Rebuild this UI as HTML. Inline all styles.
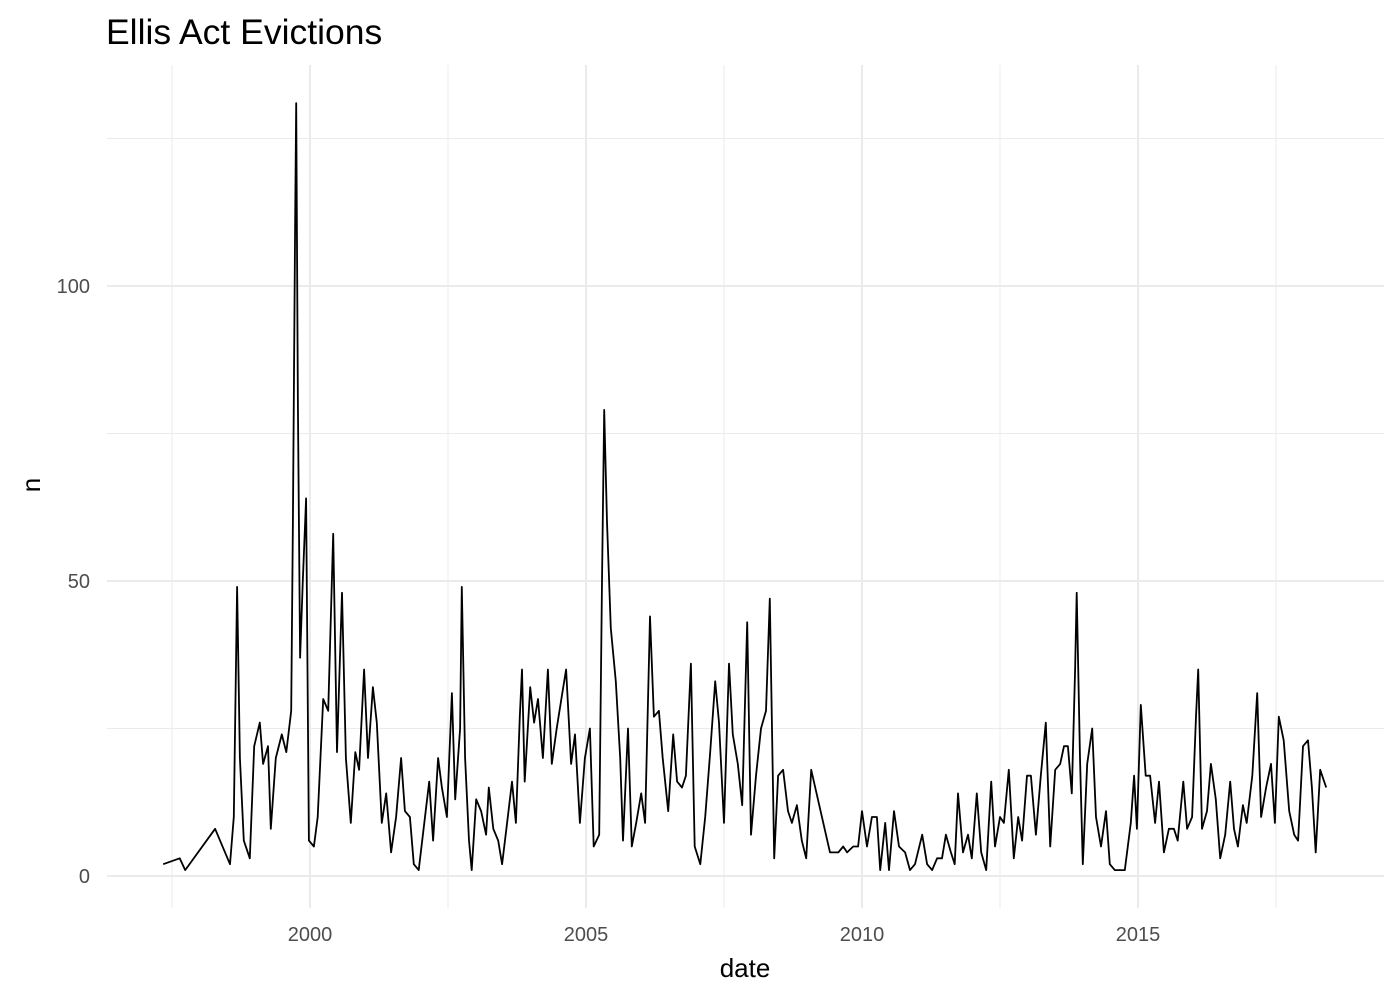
<!DOCTYPE html>
<html><head><meta charset="utf-8"><style>
body{margin:0;background:#fff;}
svg{display:block;font-family:"Liberation Sans",Arial,sans-serif;}
</style></head><body>
<svg id="chart" width="1400" height="1000">
<text x="106" y="44" font-size="35.5" fill="#000">Ellis Act Evictions</text>
<g id="grid"></g>
<g id="axes"></g>
<text x="745" y="977" font-size="26" text-anchor="middle" fill="#000">date</text>
<text transform="translate(40,485) rotate(-90)" font-size="26" text-anchor="middle" fill="#000">n</text>
<path id="line" fill="none" stroke="#000" stroke-width="1.8" stroke-linejoin="round"></path>
</svg>
<script>
const dates=[1997.34,1997.64,1997.74,1998.28,1998.55,1998.62,1998.68,1998.73,1998.80,1998.91,1998.99,1999.09,1999.15,1999.24,1999.29,1999.38,1999.49,1999.57,1999.66,1999.69,1999.73,1999.75,1999.78,1999.82,1999.87,1999.93,1999.98,2000.07,2000.14,2000.24,2000.33,2000.42,2000.49,2000.58,2000.65,2000.74,2000.82,2000.89,2000.98,2001.05,2001.14,2001.21,2001.30,2001.38,2001.47,2001.56,2001.65,2001.72,2001.81,2001.88,2001.97,2002.07,2002.16,2002.23,2002.32,2002.39,2002.48,2002.57,2002.63,2002.72,2002.75,2002.81,2002.88,2002.93,2003.01,2003.10,2003.19,2003.24,2003.32,2003.41,2003.48,2003.57,2003.66,2003.73,2003.80,2003.84,2003.89,2003.99,2004.06,2004.13,2004.22,2004.31,2004.38,2004.47,2004.57,2004.64,2004.73,2004.80,2004.89,2004.98,2005.07,2005.14,2005.24,2005.29,2005.33,2005.38,2005.45,2005.54,2005.62,2005.67,2005.76,2005.83,2005.91,2006.00,2006.07,2006.16,2006.23,2006.32,2006.39,2006.49,2006.58,2006.65,2006.74,2006.81,2006.90,2006.97,2007.07,2007.16,2007.25,2007.34,2007.41,2007.50,2007.59,2007.66,2007.75,2007.83,2007.92,2007.99,2008.08,2008.17,2008.26,2008.33,2008.41,2008.48,2008.57,2008.66,2008.73,2008.82,2008.91,2008.99,2009.08,2009.42,2009.57,2009.66,2009.73,2009.84,2009.93,2010.00,2010.09,2010.18,2010.27,2010.33,2010.42,2010.49,2010.58,2010.67,2010.78,2010.87,2010.96,2011.09,2011.18,2011.27,2011.36,2011.45,2011.52,2011.61,2011.68,2011.74,2011.83,2011.92,2011.99,2012.08,2012.16,2012.25,2012.34,2012.41,2012.50,2012.57,2012.66,2012.75,2012.83,2012.90,2012.99,2013.06,2013.15,2013.24,2013.33,2013.41,2013.50,2013.59,2013.66,2013.73,2013.80,2013.86,2013.89,2013.95,2014.00,2014.08,2014.17,2014.24,2014.33,2014.42,2014.49,2014.58,2014.67,2014.76,2014.87,2014.93,2014.98,2015.05,2015.14,2015.22,2015.31,2015.38,2015.47,2015.56,2015.65,2015.72,2015.82,2015.89,2015.98,2016.05,2016.09,2016.16,2016.25,2016.32,2016.41,2016.49,2016.58,2016.67,2016.74,2016.81,2016.90,2016.97,2017.07,2017.16,2017.23,2017.32,2017.41,2017.48,2017.55,2017.64,2017.74,2017.83,2017.90,2017.99,2018.08,2018.15,2018.22,2018.30,2018.41];
const values=[2,3,1,8,2,10,49,20,6,3,22,26,19,22,8,20,24,21,28,60,110,131,80,37,50,64,6,5,10,30,28,58,21,48,20,9,21,18,35,20,32,26,9,14,4,10,20,11,10,2,1,9,16,6,20,15,10,31,13,25,49,20,6,1,13,11,7,15,8,6,2,9,16,9,27,35,16,32,26,30,20,35,19,25,31,35,19,24,9,20,25,5,7,50,79,60,42,33,20,6,25,5,9,14,9,44,27,28,20,11,24,16,15,17,36,5,2,10,21,33,26,9,36,24,19,12,43,7,17,25,28,47,3,17,18,11,9,12,6,3,18,4,4,5,4,5,5,11,5,10,10,1,9,1,11,5,4,1,2,7,2,1,3,3,7,4,2,14,4,7,3,14,4,1,16,5,10,9,18,3,10,6,17,17,7,17,26,5,18,19,22,22,14,35,48,20,2,19,25,10,5,11,2,1,1,1,9,17,8,29,17,17,9,16,4,8,8,6,16,8,10,27,35,8,11,19,13,3,7,16,8,5,12,9,17,31,10,15,19,9,27,23,11,7,6,22,23,15,4,18,15];
const yTicks=[0,50,100];
const yMinor=[25,75,125];
const xTicks=[2000,2005,2010,2015];
const xMinor=[1997.5,2002.5,2007.5,2012.5,2017.5];

const NS="http://www.w3.org/2000/svg";
const L=107,R=1384,T=65,B=908;
function xs(v){return 310+(v-2000)*55.2;}
function ys(v){return 876-v*5.9;}
const grid=document.getElementById('grid'),axes=document.getElementById('axes');
function ln(x1,y1,x2,y2,w){const e=document.createElementNS(NS,'line');e.setAttribute('x1',x1);e.setAttribute('y1',y1);e.setAttribute('x2',x2);e.setAttribute('y2',y2);e.setAttribute('stroke','#ebebeb');e.setAttribute('stroke-width',w);grid.appendChild(e);return e;}
yMinor.forEach(v=>{const e=ln(L,ys(v),R,ys(v),1);

});
xMinor.forEach(v=>{const e=ln(xs(v),T,xs(v),B,1);

});
yTicks.forEach(v=>{const e=ln(L,ys(v),R,ys(v),2);


const t=document.createElementNS(NS,'text');t.setAttribute('x',90);t.setAttribute('y',ys(v)+7);t.setAttribute('text-anchor','end');t.setAttribute('font-size','20');t.setAttribute('fill','#4d4d4d');t.textContent=v;


axes.appendChild(t);});
xTicks.forEach(v=>{const e=ln(xs(v),T,xs(v),B,2);


const t=document.createElementNS(NS,'text');t.setAttribute('x',xs(v));t.setAttribute('y',941);t.setAttribute('text-anchor','middle');t.setAttribute('font-size','20');t.setAttribute('fill','#4d4d4d');t.textContent=v;


axes.appendChild(t);});
let d='';dates.forEach((dt,i)=>{d+=(i?'L':'M')+xs(dt).toFixed(1)+','+ys(values[i]).toFixed(1);});
document.getElementById('line').setAttribute('d',d);
</script>
</body></html>
